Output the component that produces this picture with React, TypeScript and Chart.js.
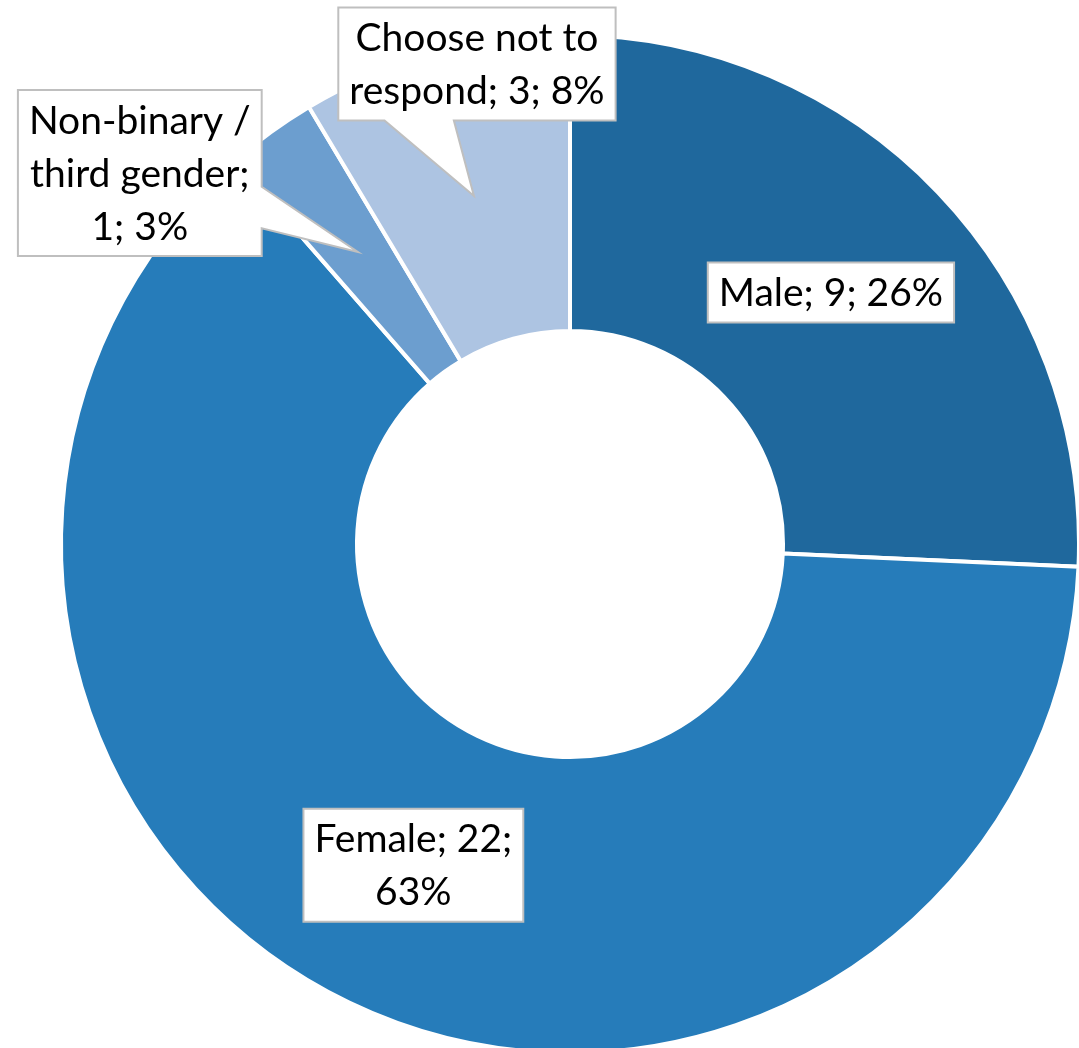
import React, { useEffect, useRef } from 'react';
import { Chart, registerables } from 'chart.js';

Chart.register(...registerables);

// ---- data ----
const categories = ['Male', 'Female', 'Non-binary / third gender', 'Choose not to respond'];
const counts = [9, 22, 1, 3];
const percentLabels = [26, 63, 3, 8];
const sliceColors = ['#1F689D', '#267CBA', '#6C9ECF', '#ADC4E2'];

// ---- label layout (offset of the label box from the slice's mid-ring anchor) ----
const labelOffsets: [number, number][] = [
  [0, -2],
  [0, -4],
  [-218, -79],
  [3, -132],
];
const wrapWidths = [400, 215, 240, 275];

const FONT_SIZE = 39;
const FONT = `${FONT_SIZE}px Lato, "Liberation Sans", sans-serif`;
const LINE_H = 53;
const PAD_X = 11;
const PAD_Y = 3.5;

function wrapText(ctx: CanvasRenderingContext2D, text: string, maxW: number): string[] {
  const words = text.split(' ');
  const lines: string[] = [];
  let cur = '';
  for (const w of words) {
    const test = cur ? cur + ' ' + w : w;
    if (cur && ctx.measureText(test).width > maxW) {
      lines.push(cur);
      cur = w;
    } else {
      cur = test;
    }
  }
  if (cur) lines.push(cur);
  return lines;
}

function calloutPath(
  ctx: CanvasRenderingContext2D,
  l: number, t: number, w: number, h: number,
  tx: number, ty: number
) {
  const cx = l + w / 2;
  const cy = t + h / 2;
  const dx = tx - cx;
  const dy = ty - cy;
  const inside = tx >= l && tx <= l + w && ty >= t && ty <= t + h;
  ctx.beginPath();
  if (inside) {
    ctx.rect(l, t, w, h);
    return;
  }
  const horiz = Math.abs(dx) * h > Math.abs(dy) * w;
  ctx.moveTo(l, t);
  if (!horiz && dy < 0) {
    const a = dx < 0 ? 2 / 12 : 7 / 12;
    const b = dx < 0 ? 5 / 12 : 10 / 12;
    ctx.lineTo(l + w * a, t);
    ctx.lineTo(tx, ty);
    ctx.lineTo(l + w * b, t);
  }
  ctx.lineTo(l + w, t);
  if (horiz && dx > 0) {
    const a = dy < 0 ? 2 / 12 : 7 / 12;
    const b = dy < 0 ? 5 / 12 : 10 / 12;
    ctx.lineTo(l + w, t + h * a);
    ctx.lineTo(tx, ty);
    ctx.lineTo(l + w, t + h * b);
  }
  ctx.lineTo(l + w, t + h);
  if (!horiz && dy > 0) {
    const a = dx < 0 ? 2 / 12 : 7 / 12;
    const b = dx < 0 ? 5 / 12 : 10 / 12;
    ctx.lineTo(l + w * b, t + h);
    ctx.lineTo(tx, ty);
    ctx.lineTo(l + w * a, t + h);
  }
  ctx.lineTo(l, t + h);
  if (horiz && dx < 0) {
    const a = dy < 0 ? 2 / 12 : 7 / 12;
    const b = dy < 0 ? 5 / 12 : 10 / 12;
    ctx.lineTo(l, t + h * b);
    ctx.lineTo(tx, ty);
    ctx.lineTo(l, t + h * a);
  }
  ctx.closePath();
}

const calloutLabelPlugin = {
  id: 'calloutLabels',
  afterDatasetsDraw(chart: any) {
    const ctx: CanvasRenderingContext2D = chart.ctx;
    const meta = chart.getDatasetMeta(0);
    ctx.save();
    ctx.font = FONT;
    meta.data.forEach((arc: any, i: number) => {
      const p = arc.getProps(['x', 'y', 'startAngle', 'endAngle', 'innerRadius', 'outerRadius'], true);
      const mid = (p.startAngle + p.endAngle) / 2;
      const r = (p.innerRadius + p.outerRadius) / 2;
      const ax = p.x + r * Math.cos(mid);
      const ay = p.y + r * Math.sin(mid);
      const text = `${categories[i]}; ${counts[i]}; ${percentLabels[i]}%`;
      const lines = wrapText(ctx, text, wrapWidths[i]);
      const textW = Math.max(...lines.map((s) => ctx.measureText(s).width));
      const bw = textW + PAD_X * 2;
      const bh = lines.length * LINE_H + PAD_Y * 2;
      const bcx = ax + labelOffsets[i][0];
      const bcy = ay + labelOffsets[i][1];
      const l = bcx - bw / 2;
      const t = bcy - bh / 2;
      calloutPath(ctx, l, t, bw, bh, ax, ay);
      ctx.fillStyle = '#FFFFFF';
      ctx.fill();
      ctx.lineWidth = 2;
      ctx.strokeStyle = '#BFBFBF';
      ctx.lineJoin = 'miter';
      ctx.stroke();
      ctx.fillStyle = '#000000';
      ctx.textAlign = 'center';
      ctx.textBaseline = 'middle';
      lines.forEach((s, k) => {
        ctx.fillText(s, bcx, t + PAD_Y + LINE_H * (k + 0.5) + 1);
      });
    });
    ctx.restore();
  },
};

export default function App() {
  const ref = useRef<HTMLCanvasElement | null>(null);

  useEffect(() => {
    document.body.style.margin = '0';
    const canvas = ref.current;
    if (!canvas) return;
    const chart = new Chart(canvas, {
      type: 'doughnut',
      data: {
        labels: categories,
        datasets: [
          {
            data: counts,
            backgroundColor: sliceColors,
            borderColor: '#FFFFFF',
            borderWidth: 4,
            hoverOffset: 0,
          },
        ],
      },
      options: {
        responsive: false,
        animation: false,
        cutout: 213,
        layout: { padding: { left: 59, right: 4, top: 33, bottom: 5 } },
        plugins: {
          legend: { display: false },
          tooltip: { enabled: false },
        },
        events: [],
      },
      plugins: [calloutLabelPlugin],
    } as any);
    return () => chart.destroy();
  }, []);

  return (
    <div
      style={{
        position: 'fixed',
        left: 0,
        top: 0,
        width: 1079,
        height: 1048,
        overflow: 'hidden',
        background: '#FFFFFF',
      }}
    >
      <canvas ref={ref} width={1085} height={1060} style={{ width: 1085, height: 1060, display: 'block' }} />
    </div>
  );
}
